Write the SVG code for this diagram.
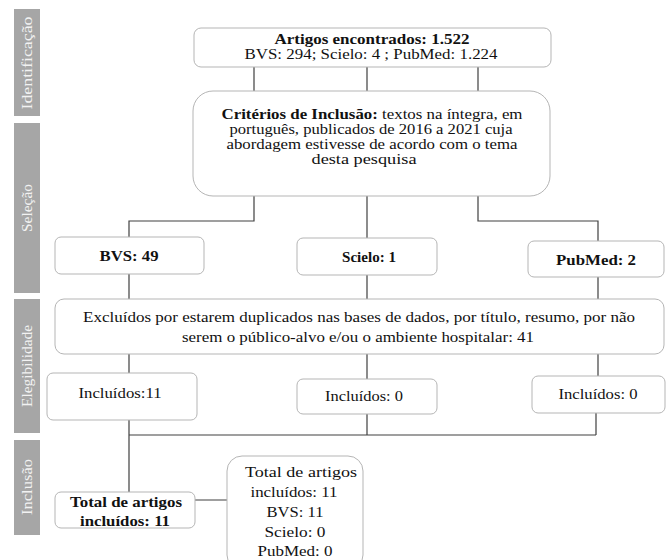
<svg xmlns="http://www.w3.org/2000/svg" width="670" height="560" viewBox="0 0 670 560">
<style>
.bar{fill:#a6a6a6}
.side{font-family:"Liberation Serif","Tinos","Times New Roman","DejaVu Serif","Noto Serif",serif;font-size:15px;fill:#f2f2f2;text-anchor:middle}
.box{fill:#ffffff;stroke:#b5b5b5;stroke-width:1}
.t{font-family:"Liberation Serif","Tinos","Times New Roman","DejaVu Serif","Noto Serif",serif;font-size:15px;fill:#111;text-anchor:middle}
.b{font-weight:bold}
.c{fill:none;stroke:#404040;stroke-width:1.2}
</style>
<rect width="670" height="560" fill="#ffffff"/>
<g id="sidebars">
<rect class="bar" x="14" y="9" width="26" height="107"/>
<text class="side" transform="translate(32,63) rotate(-90)" textLength="93" lengthAdjust="spacingAndGlyphs">Identificação</text>
<rect class="bar" x="14" y="123" width="26" height="170"/>
<text class="side" transform="translate(32,208) rotate(-90)" textLength="48" lengthAdjust="spacingAndGlyphs">Seleção</text>
<rect class="bar" x="14" y="299" width="26" height="134"/>
<text class="side" transform="translate(32,366) rotate(-90)" textLength="82" lengthAdjust="spacingAndGlyphs">Elegibilidade</text>
<rect class="bar" x="14" y="440" width="26" height="95"/>
<text class="side" transform="translate(32,487) rotate(-90)" textLength="56" lengthAdjust="spacingAndGlyphs">Inclusão</text>
</g>
<g id="connectors">
<path class="c" d="M254,67V91M367,67V91M478,67V91"/>
<path class="c" d="M254,196V221H129V237"/>
<path class="c" d="M367,196V238"/>
<path class="c" d="M478,196V221H598V241"/>
<path class="c" d="M129,274V299M367,275V299M598,277V299"/>
<path class="c" d="M129,354V373M367,354V379M598,354V376"/>
<path class="c" d="M129,420V492M367,414V435M596,413V435M129,435H596"/>
<path class="c" d="M195,500H228"/>
</g>
<g id="n-encontrados">
<rect class="box" x="194" y="28" width="357" height="39" rx="7"/>
<text class="t b" x="372" y="44" textLength="195" lengthAdjust="spacingAndGlyphs">Artigos encontrados: 1.522</text>
<text class="t" x="371" y="59" textLength="253" lengthAdjust="spacingAndGlyphs">BVS: 294; Scielo: 4 ; PubMed: 1.224</text>
</g>
<g id="n-criterios">
<rect class="box" x="193" y="91" width="357" height="105" rx="20"/>
<text class="t" x="372" y="119" textLength="301" lengthAdjust="spacingAndGlyphs"><tspan class="b">Critérios de Inclusão:</tspan> textos na íntegra, em</text>
<text class="t" x="371" y="134" textLength="283" lengthAdjust="spacingAndGlyphs">português, publicados de 2016 a 2021 cuja</text>
<text class="t" x="372" y="149" textLength="291" lengthAdjust="spacingAndGlyphs">abordagem estivesse de acordo com o tema</text>
<text class="t" x="364" y="164" textLength="105" lengthAdjust="spacingAndGlyphs">desta pesquisa</text>
</g>
<g id="n-bvs">
<rect class="box" x="55" y="237" width="149" height="37" rx="6"/>
<text class="t b" x="129" y="261" textLength="59" lengthAdjust="spacingAndGlyphs">BVS: 49</text>
</g>
<g id="n-scielo">
<rect class="box" x="297" y="238" width="140" height="37" rx="6"/>
<text class="t b" x="369" y="262" textLength="54" lengthAdjust="spacingAndGlyphs">Scielo: 1</text>
</g>
<g id="n-pubmed">
<rect class="box" x="528" y="241" width="136" height="36" rx="6"/>
<text class="t b" x="596" y="265" textLength="80" lengthAdjust="spacingAndGlyphs">PubMed: 2</text>
</g>
<g id="n-excluidos">
<rect class="box" x="55" y="299" width="609" height="55" rx="9"/>
<text class="t" x="359" y="322" textLength="552" lengthAdjust="spacingAndGlyphs">Excluídos por estarem duplicados nas bases de dados, por título, resumo, por não</text>
<text class="t" x="358" y="342" textLength="352" lengthAdjust="spacingAndGlyphs">serem o público-alvo e/ou o ambiente hospitalar: 41</text>
</g>
<g id="n-incl-bvs">
<rect class="box" x="47" y="373" width="150" height="47" rx="6"/>
<text class="t" x="120" y="398" textLength="83" lengthAdjust="spacingAndGlyphs">Incluídos:11</text>
</g>
<g id="n-incl-scielo">
<rect class="box" x="297" y="379" width="140" height="35" rx="6"/>
<text class="t" x="364" y="401" textLength="78" lengthAdjust="spacingAndGlyphs">Incluídos: 0</text>
</g>
<g id="n-incl-pubmed">
<rect class="box" x="532" y="376" width="133" height="37" rx="6"/>
<text class="t" x="598" y="399" textLength="79" lengthAdjust="spacingAndGlyphs">Incluídos: 0</text>
</g>
<g id="n-total">
<rect class="box" x="55" y="492" width="140" height="36" rx="6"/>
<text class="t b" x="126" y="507" textLength="112" lengthAdjust="spacingAndGlyphs">Total de artigos</text>
<text class="t b" x="125" y="526" textLength="90" lengthAdjust="spacingAndGlyphs">incluídos:  11</text>
</g>
<g id="n-detalhe">
<rect class="box" x="227" y="456" width="136" height="114" rx="15"/>
<text class="t" x="301" y="477" textLength="112" lengthAdjust="spacingAndGlyphs">Total de artigos</text>
<text class="t" x="294" y="497" textLength="87" lengthAdjust="spacingAndGlyphs">incluídos: 11</text>
<text class="t" x="295" y="517" textLength="57" lengthAdjust="spacingAndGlyphs">BVS: 11</text>
<text class="t" x="295" y="537" textLength="61" lengthAdjust="spacingAndGlyphs">Scielo: 0</text>
<text class="t" x="295" y="556" textLength="75" lengthAdjust="spacingAndGlyphs">PubMed: 0</text>
</g>
</svg>
